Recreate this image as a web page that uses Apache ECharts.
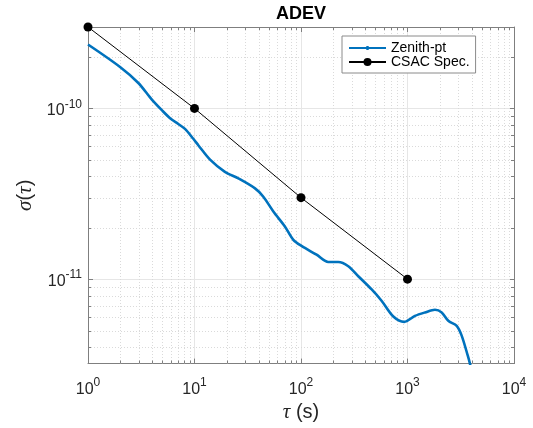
<!DOCTYPE html>
<html>
<head>
<meta charset="utf-8">
<script src="https://cdn.jsdelivr.net/npm/echarts@6/dist/echarts.min.js"></script>
<style>html,body{margin:0;padding:0;background:#fff}#c{width:533px;height:428px}</style>
</head>
<body>
<div id="c"></div>
<script>
// ---- data ----
const zenithTau = [1, 2.0, 2.97, 3.96, 4.99, 6.02, 7.04, 8.14, 9.75, 10.9, 14.0, 19.3, 25.8, 37.0, 44.3, 55.0, 70.8, 84.7, 102, 140, 180, 224, 278, 345, 461, 573, 736, 933, 1175, 1460, 1812, 2094, 2416, 2897, 3226, 3676, 3864, 3950];
const zenithSigma = [2.37e-10, 1.75e-10, 1.41e-10, 1.13e-10, 9.7e-11, 8.67e-11, 8.11e-11, 7.59e-11, 6.64e-11, 6.07e-11, 5.01e-11, 4.25e-11, 3.89e-11, 3.40e-11, 3.04e-11, 2.49e-11, 2.03e-11, 1.70e-11, 1.56e-11, 1.39e-11, 1.26e-11, 1.26e-11, 1.19e-11, 1.04e-11, 8.70e-12, 7.45e-12, 6.04e-12, 5.62e-12, 6.09e-12, 6.38e-12, 6.61e-12, 6.38e-12, 5.70e-12, 5.33e-12, 4.67e-12, 3.57e-12, 3.19e-12, 3.0e-12];
const csacTau = [1, 10, 100, 1000];
const csacSigma = [3e-10, 1e-10, 3e-11, 1e-11];
const xRange = [1, 10000];
const yRange = [3.2e-12, 3e-10];
const xMinorTicks = [2,3,4,5,6,7,8,9,20,30,40,50,60,70,80,90,200,300,400,500,600,700,800,900,2000,3000,4000,5000,6000,7000,8000,9000];
const yMinorTicks = [4e-12,5e-12,6e-12,7e-12,8e-12,9e-12,2e-11,3e-11,4e-11,5e-11,6e-11,7e-11,8e-11,9e-11,2e-10];
const seriesNames = ['Zenith-pt', 'CSAC Spec.'];
const titleText = 'ADEV';

// ---- chart ----
const FONT = 'Liberation Sans, Arial, Helvetica, sans-serif';
const axisColor = '#7f7f7f';
const labelColor = '#262626';
const majorGrid = '#e6e6e6';
const minorGrid = '#dadada';

function powLabel(v) {
  const e = Math.round(Math.log10(v));
  return '{b|10}{e|' + e + '}';
}
const powRich = {
  b: {fontSize: 16, fontFamily: FONT, color: labelColor},
  e: {fontSize: 12, padding: [0, 0, 13, 0], fontFamily: FONT, color: labelColor}
};
const nameRich = {
  i: {fontStyle: 'italic', fontFamily: 'Liberation Serif, DejaVu Serif, serif', fontSize: 21, color: labelColor},
  r: {fontFamily: FONT, fontSize: 20, color: labelColor}
};

const minorData = xMinorTicks.map(v => [v, 1e-11, 0]).concat(yMinorTicks.map(v => [10, v, 1]));

const chart = echarts.init(document.getElementById('c'), null, {renderer: 'canvas'});
chart.setOption({
  animation: false,
  backgroundColor: '#fff',
  title: {
    text: titleText, left: 301, top: 5, textAlign: 'center', padding: 0,
    textStyle: {fontFamily: FONT, fontWeight: 'bold', fontSize: 18, color: '#000'}
  },
  grid: {left: 88, right: 19, top: 27, bottom: 63.5, containLabel: false},
  legend: {
    orient: 'vertical', left: 342, top: 36,
    data: [
      {name: seriesNames[0], icon: 'path://M0,4.6h37v1.8h-37z M17.3,3.6h2.4v3.8h-2.4z'},
      {name: seriesNames[1]}
    ],
    itemWidth: 37, itemHeight: 10, itemGap: 0,
    padding: [5, 6, 4, 6],
    borderColor: '#8a8a8a', borderWidth: 1, backgroundColor: '#fff',
    textStyle: {fontFamily: FONT, fontSize: 14, color: '#000'}
  },
  xAxis: [{
    type: 'log', logBase: 10, min: xRange[0], max: xRange[1], position: 'bottom',
    axisLine: {show: true, onZero: false, lineStyle: {color: axisColor, width: 1}},
    axisTick: {show: true, inside: true, length: 5, lineStyle: {color: axisColor}},
    axisLabel: {margin: 13, formatter: powLabel, rich: powRich},
    splitLine: {show: true, lineStyle: {color: majorGrid, width: 1}},
    name: '{i|τ}{r| (s)}', nameLocation: 'middle', nameGap: 35,
    nameTextStyle: {rich: nameRich}
  }, {
    type: 'log', logBase: 10, min: xRange[0], max: xRange[1], position: 'top',
    axisLine: {show: true, onZero: false, lineStyle: {color: axisColor, width: 1}},
    axisTick: {show: true, inside: true, length: 5, lineStyle: {color: axisColor}},
    axisLabel: {show: false}, splitLine: {show: false}
  }],
  yAxis: [{
    type: 'log', logBase: 10, min: yRange[0], max: yRange[1], position: 'left',
    axisLine: {show: true, onZero: false, lineStyle: {color: axisColor, width: 1}},
    axisTick: {show: true, inside: true, length: 5, lineStyle: {color: axisColor}},
    axisLabel: {margin: 6, padding: [5, 0, 0, 0], formatter: powLabel, rich: powRich, showMinLabel: false, showMaxLabel: false},
    splitLine: {show: true, lineStyle: {color: majorGrid, width: 1}},
    name: '{i|σ}{r|(}{i|τ}{r|)}', nameLocation: 'middle', nameGap: 48,
    nameTextStyle: {rich: nameRich}
  }, {
    type: 'log', logBase: 10, min: yRange[0], max: yRange[1], position: 'right',
    axisLine: {show: true, onZero: false, lineStyle: {color: axisColor, width: 1}},
    axisTick: {show: true, inside: true, length: 5, lineStyle: {color: axisColor}},
    axisLabel: {show: false}, splitLine: {show: false}
  }],
  series: [{
    type: 'custom', name: 'minor', silent: true, z: 1, xAxisIndex: 0, yAxisIndex: 0,
    data: minorData,
    encode: {x: 0, y: 1},
    renderItem: function (params, api) {
      const cs = params.coordSys;
      const kind = api.value(2);
      const dotted = {stroke: minorGrid, lineWidth: 1, lineDash: [1, 2]};
      const tick = {stroke: axisColor, lineWidth: 1};
      if (kind === 0) {
        const p = api.coord([api.value(0), api.value(1)]);
        const x = Math.round(p[0]) + 0.5;
        return {type: 'group', children: [
          {type: 'line', shape: {x1: x, y1: cs.y, x2: x, y2: cs.y + cs.height}, style: dotted},
          {type: 'line', shape: {x1: x, y1: cs.y + cs.height, x2: x, y2: cs.y + cs.height - 3}, style: tick},
          {type: 'line', shape: {x1: x, y1: cs.y, x2: x, y2: cs.y + 3}, style: tick}
        ]};
      } else {
        const p = api.coord([api.value(0), api.value(1)]);
        const y = Math.round(p[1]) + 0.5;
        return {type: 'group', children: [
          {type: 'line', shape: {x1: cs.x, y1: y, x2: cs.x + cs.width, y2: y}, style: dotted},
          {type: 'line', shape: {x1: cs.x, y1: y, x2: cs.x + 3, y2: y}, style: tick},
          {type: 'line', shape: {x1: cs.x + cs.width, y1: y, x2: cs.x + cs.width - 3, y2: y}, style: tick}
        ]};
      }
    }
  }, {
    type: 'line', name: seriesNames[0], z: 3,
    data: zenithTau.map((t, i) => [t, zenithSigma[i]]),
    showSymbol: false, symbol: 'circle', smooth: 0.3, clip: true,
    lineStyle: {color: '#0072BD', width: 2.6},
    itemStyle: {color: '#0072BD'}
  }, {
    type: 'line', name: seriesNames[1], z: 4,
    data: csacTau.map((t, i) => [t, csacSigma[i]]),
    symbol: 'circle', symbolSize: 9, clip: false,
    lineStyle: {color: '#000', width: 1},
    itemStyle: {color: '#000'}
  }]
});
</script>
</body>
</html>
